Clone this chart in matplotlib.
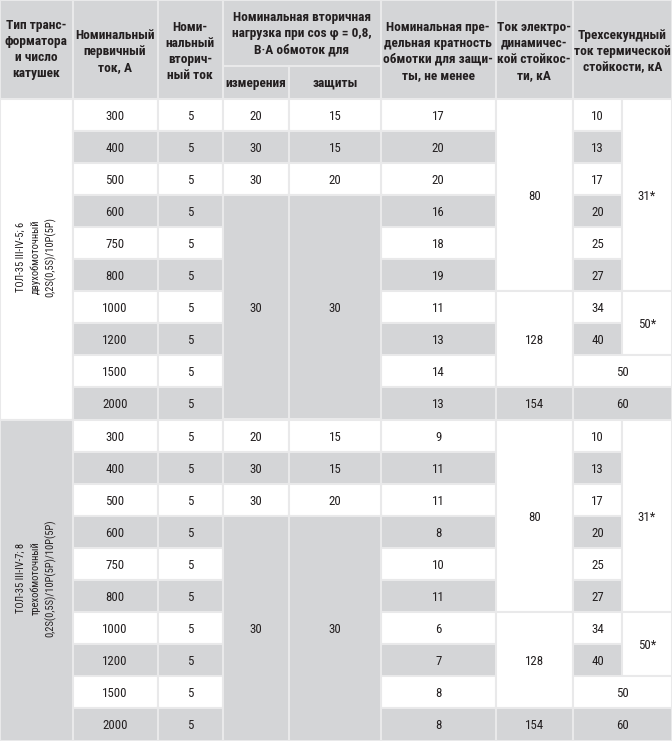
import matplotlib
matplotlib.use('Agg')
import matplotlib.pyplot as plt
from matplotlib.patches import Rectangle

plt.rcParams['font.family'] = ['Roboto Condensed', 'DejaVu Sans']

# шапка таблицы
head_type = 'Тип транс-\nформатора\nи число\nкатушек'
head_primary = 'Номинальный\nпервичный\nток, А'
head_secondary = 'Номи-\nнальный\nвторич-\nный ток'
head_load = 'Номинальная вторичная\nнагрузка при cos φ = 0,8,\nВ·А обмоток для'
head_measure = 'измерения'
head_protect = 'защиты'
head_mult = 'Номинальная пре-\nдельная кратность\nобмотки для защи-\nты, не менее'
head_dyn = 'Ток электро-\nдинамичес-\nкой стойкос-\nти, кА'
head_therm = 'Трехсекундный\nток термической\nстойкости, кА'

# данные
types = ['ТОЛ-35 III-IV-5; 6\nдвухобмоточный\n0,2S(0,5S)/10P(5P)',
         'ТОЛ-35 III-IV-7; 8\nтрехобмоточный\n0,2S(0,5S)/10P(5P)/10P(5P)']
primary_current = [300, 400, 500, 600, 750, 800, 1000, 1200, 1500, 2000]
secondary_current = [5, 5, 5, 5, 5, 5, 5, 5, 5, 5]
load_measure = [20, 30, 30]
load_protect = [15, 15, 20]
load_merged = 30
mult_1 = [17, 20, 20, 16, 18, 19, 11, 13, 14, 13]
mult_2 = [9, 11, 11, 8, 10, 11, 6, 7, 8, 8]
dyn_current = [80, 128, 154]
thermal_single = [10, 13, 17, 20, 25, 27, 34, 40]
thermal_group = ['31*', '50*', '50', '60']

GRAY = '#d4d5d7'
LINE = '#e9e9ea'
TXT = '#231f20'

xs = [0, 72.5, 157.5, 222.5, 289, 381, 495.5, 573, 622, 672]
HEAD_H = 98.5
SUB_Y = 66
ROW_H = 32.1


def ry(r):
    return HEAD_H + r * ROW_H


fig = plt.figure(figsize=(6.72, 7.41), dpi=100)
ax = fig.add_axes([0, 0, 1, 1])
ax.set_xlim(0, 672)
ax.set_ylim(741, 0)
ax.axis('off')


def box(x0, x1, y0, y1, text, gray, dy=0, **kw):
    ax.add_patch(Rectangle((x0, y0), x1 - x0, y1 - y0,
                           facecolor=GRAY if gray else 'white',
                           edgecolor=LINE, linewidth=1.5))
    opts = dict(ha='center', va='center', color=TXT, fontsize=9.3)
    opts.update(kw)
    ax.text((x0 + x1) / 2, (y0 + y1) / 2 + dy, str(text), **opts)


def cell(c0, c1, r0, r1, text, gray, dy=1.5, **kw):
    box(xs[c0], xs[c1], ry(r0), ry(r1), text, gray, dy=dy, **kw)


# шапка
hk = dict(fontsize=9.6, fontweight='bold', linespacing=1.3)
box(xs[0], xs[1], 0, HEAD_H, head_type, True, **hk)
box(xs[1], xs[2], 0, HEAD_H, head_primary, True, dy=2, **hk)
box(xs[2], xs[3], 0, HEAD_H, head_secondary, True, dy=2, **hk)
box(xs[3], xs[5], 0, SUB_Y, head_load, True, dy=1, **hk)
box(xs[3], xs[4], SUB_Y, HEAD_H, head_measure, True, dy=1, **hk)
box(xs[4], xs[5], SUB_Y, HEAD_H, head_protect, True, dy=1, **hk)
box(xs[5], xs[6], 0, HEAD_H, head_mult, True, dy=2, **hk)
box(xs[6], xs[7], 0, HEAD_H, head_dyn, True, dy=2, **hk)
box(xs[7], xs[9], 0, HEAD_H, head_therm, True, dy=2, **hk)

for s, mult in enumerate([mult_1, mult_2]):
    b = s * 10
    cell(0, 1, b, b + 10, types[s], s == 1, dy=-2, rotation=90,
         fontsize=7.6, linespacing=1.45)
    for i in range(10):
        g = i % 2 == 1
        cell(1, 2, b + i, b + i + 1, primary_current[i], g)
        cell(2, 3, b + i, b + i + 1, secondary_current[i], g)
        cell(5, 6, b + i, b + i + 1, mult[i], g)
    for i in range(3):
        g = i % 2 == 1
        cell(3, 4, b + i, b + i + 1, load_measure[i], g)
        cell(4, 5, b + i, b + i + 1, load_protect[i], g)
    cell(3, 4, b + 3, b + 10, load_merged, True)
    cell(4, 5, b + 3, b + 10, load_merged, True)
    cell(6, 7, b, b + 6, dyn_current[0], False)
    cell(6, 7, b + 6, b + 9, dyn_current[1], False)
    cell(6, 7, b + 9, b + 10, dyn_current[2], True)
    for i, v in enumerate(thermal_single):
        cell(7, 8, b + i, b + i + 1, v, i % 2 == 1)
    cell(8, 9, b, b + 6, thermal_group[0], False)
    cell(8, 9, b + 6, b + 8, thermal_group[1], False)
    cell(7, 9, b + 8, b + 9, thermal_group[2], False)
    cell(7, 9, b + 9, b + 10, thermal_group[3], True)

fig.savefig('out.png', dpi=100)
